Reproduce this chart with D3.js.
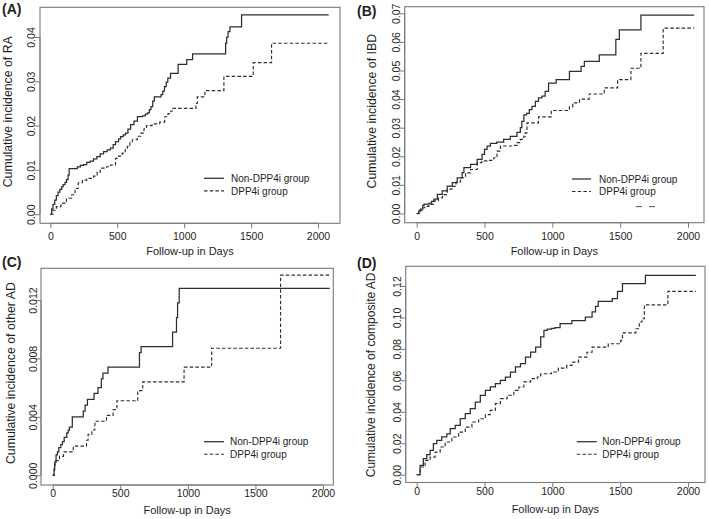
<!DOCTYPE html>
<html><head><meta charset="utf-8">
<script src="https://cdn.jsdelivr.net/npm/d3@7"></script>
<style>
body{margin:0;background:#fff}
svg{display:block}
text{font-family:"Liberation Sans",Arial,Helvetica,sans-serif;fill:#1e1e1e}
</style>
</head><body>
<svg id="chart" width="709" height="519"></svg>
<script>
// ---------------- DATA ----------------
const xTicks = [0, 500, 1000, 1500, 2000];
const groupNames = ["Non-DPP4i group", "DPP4i group"];
const xTitle = "Follow-up in Days";

// Panel A : RA
const aTitle = "Cumulative incidence of RA";
const aTicks = [0, 0.01, 0.02, 0.03, 0.04];
const aTickLabels = ["0.00", "0.01", "0.02", "0.03", "0.04"];
const aEnd = 2080;
const aNonDays = [0,10,20,33,45,58,71,85,96,110,121,133,141,202,225,247,272,298,323,348,373,398,425,449,470,487,510,525,545,562,580,600,625,651,689,710,726,740,752,765,777,827,840,853,866,878,898,955,1019,1063,1310,1318,1328,1342,1429];
const aNonVals = [0,0.0012,0.0022,0.0032,0.0042,0.0050,0.0056,0.0062,0.0067,0.0072,0.0078,0.0088,0.0103,0.0107,0.0110,0.0112,0.0117,0.0120,0.0125,0.0130,0.0136,0.0141,0.0145,0.0149,0.0157,0.0164,0.0170,0.0175,0.0179,0.0183,0.0192,0.0202,0.0210,0.0220,0.0222,0.0226,0.0229,0.0236,0.0243,0.0255,0.0265,0.0270,0.0278,0.0288,0.0298,0.0307,0.0318,0.0338,0.0349,0.0362,0.0386,0.0400,0.0412,0.0423,0.0450];
const aDppDays = [0,20,45,80,121,159,185,209,240,272,323,350,373,420,449,487,510,537,560,575,595,613,650,676,700,718,760,817,854,879,900,916,1088,1098,1155,1297,1516,1653];
const aDppVals = [0,0.0009,0.0017,0.0025,0.0036,0.0044,0.0058,0.0071,0.0077,0.0081,0.0086,0.0095,0.0104,0.0107,0.0111,0.0126,0.0131,0.0138,0.0146,0.0153,0.0162,0.0168,0.0176,0.0183,0.0193,0.0200,0.0204,0.0208,0.0220,0.0227,0.0233,0.0239,0.0250,0.0265,0.0279,0.0311,0.0342,0.0386];

// Panel B : IBD
const bTitle = "Cumulative incidence of IBD";
const bTicks = [0, 0.01, 0.02, 0.03, 0.04, 0.05, 0.06, 0.07];
const bTickLabels = ["0.00","0.01","0.02","0.03","0.04","0.05","0.06","0.07"];
const bEnd = 2045;
const bNonDays = [0,15,29,45,54,91,110,127,152,188,225,262,299,335,348,397,446,482,500,519,543,590,641,690,739,764,775,790,810,830,850,875,898,923,947,972,1028,1126,1212,1236,1346,1468,1494,1653];
const bNonVals = [0,0.0008,0.0015,0.0028,0.0033,0.0036,0.0042,0.0050,0.0067,0.0079,0.0096,0.0108,0.0125,0.0143,0.0160,0.0172,0.0189,0.0207,0.0224,0.0236,0.0245,0.0250,0.0259,0.0270,0.0284,0.0300,0.0322,0.0345,0.0350,0.0363,0.0375,0.0392,0.0404,0.0410,0.0427,0.0456,0.0468,0.0497,0.0514,0.0532,0.0555,0.0609,0.0642,0.0694];
const bDppDays = [0,20,40,60,90,127,160,190,225,260,290,323,360,397,446,480,519,568,592,617,715,740,764,790,800,813,898,992,1126,1150,1200,1272,1383,1481,1579,1653,1817];
const bDppVals = [0,0.0012,0.0020,0.0025,0.0032,0.0044,0.0055,0.0066,0.0085,0.0095,0.0110,0.0125,0.0142,0.0154,0.0178,0.0184,0.0186,0.0195,0.0218,0.0236,0.0238,0.0248,0.0259,0.0270,0.0282,0.0317,0.0338,0.0360,0.0373,0.0387,0.0400,0.0418,0.0439,0.0468,0.0508,0.0560,0.0648];
const bStrayDays = [1617, 1757];
const bStrayVal = 0.0024;

// Panel C : other AD
const cTitle = "Cumulative incidence of other AD";
const cTicks = [0, 0.004, 0.008, 0.012];
const cTickLabels = ["0.000","0.004","0.008","0.012"];
const cEnd = 2050;
const cNonDays = [0,10,15,25,35,45,60,72,85,104,115,124,145,226,240,257,306,335,360,372,409,642,654,887,916,924,936];
const cNonVals = [0,0.0004,0.0009,0.0014,0.0016,0.0019,0.0021,0.0023,0.0026,0.0029,0.0031,0.0033,0.0040,0.0044,0.0048,0.0052,0.0056,0.0060,0.0066,0.0070,0.0074,0.0084,0.0088,0.0098,0.0108,0.0118,0.0128];
const cDppDays = [0,12,17,50,80,152,250,262,290,312,398,447,475,629,666,972,1176,1686];
const cDppVals = [0,0.0005,0.0010,0.0013,0.0016,0.0020,0.0024,0.0028,0.0031,0.0037,0.0041,0.0045,0.0051,0.0058,0.0064,0.0074,0.0087,0.0137];

// Panel D : composite AD
const dTitle = "Cumulative incidence of composite AD";
const dTicks = [0, 0.02, 0.04, 0.06, 0.08, 0.10, 0.12];
const dTickLabels = ["0.00","0.02","0.04","0.06","0.08","0.10","0.12"];
const dEnd = 2058;
const dNonDays = [0,25,49,74,99,123,148,185,222,247,284,321,358,395,432,469,506,543,580,617,654,691,728,765,802,840,877,914,938,963,994,1019,1057,1144,1243,1293,1318,1338,1442,1480,1517,1686];
const dNonVals = [0,0.0059,0.0102,0.0127,0.0155,0.0197,0.0218,0.0240,0.0260,0.0293,0.0314,0.0356,0.0388,0.0420,0.0462,0.0505,0.0536,0.0558,0.0579,0.0600,0.0621,0.0653,0.0685,0.0706,0.0748,0.0780,0.0812,0.0876,0.0918,0.0925,0.0930,0.0935,0.0960,0.0980,0.1002,0.1035,0.1070,0.1103,0.1120,0.1166,0.1215,0.1268];
const dDppDays = [0,25,62,99,136,173,210,259,309,358,407,457,506,543,580,617,667,716,753,790,840,889,914,994,1044,1106,1144,1193,1255,1293,1412,1504,1517,1616,1641,1661,1678,1852];
const dDppVals = [0,0.0049,0.0091,0.0112,0.0144,0.0176,0.0208,0.0240,0.0271,0.0303,0.0335,0.0356,0.0382,0.0409,0.0452,0.0484,0.0505,0.0536,0.0558,0.0590,0.0611,0.0621,0.0642,0.0653,0.0678,0.0695,0.0716,0.0748,0.0779,0.0811,0.0833,0.0854,0.0902,0.0928,0.0971,0.0992,0.1080,0.1166];

// ---------------- LAYOUT ----------------
const layout = {
  A: {box:[40,340,7.3,223.3], xr:[50.3,318], yr:[214.2,37], yTop:0.04, tickX:35, titleX:11.5, titleShift:-3.5, titleSize:12.3, xTickY:240, xTitleY:254.5, lab:[2,14], leg:[204,224,178.3,231]},
  B: {box:[404.7,704,6.7,222.7], xr:[416.7,688], yr:[213.5,13.3], yTop:0.07, tickX:400, titleX:376, titleShift:-3.5, titleSize:12.3, xTickY:240, xTitleY:254.5, lab:[357,16], leg:[572,591,179,599]},
  C: {box:[41,333.3,268.3,485], xr:[52.7,323], yr:[475.3,300], yTop:0.012, tickX:37, titleX:15, titleShift:-3.5, titleSize:12.3, xTickY:496.5, xTitleY:514, lab:[2,267], leg:[204,224,441.7,230]},
  D: {box:[405.7,705,266.3,482.5], xr:[416.7,688], yr:[474.7,286], yTop:0.12, tickX:400.5, titleX:374.5, titleShift:0.5, titleSize:12, xTickY:495, xTitleY:513, lab:[357,268], leg:[576.7,596.7,441.7,602.3]}
};

const panels = [
  {key:"A", label:"(A)", title:aTitle, ticks:aTicks, tickLabels:aTickLabels, end:aEnd, non:[aNonDays,aNonVals], dpp:[aDppDays,aDppVals]},
  {key:"B", label:"(B)", title:bTitle, ticks:bTicks, tickLabels:bTickLabels, end:bEnd, non:[bNonDays,bNonVals], dpp:[bDppDays,bDppVals], stray:[bStrayDays,bStrayVal]},
  {key:"C", label:"(C)", title:cTitle, ticks:cTicks, tickLabels:cTickLabels, end:cEnd, non:[cNonDays,cNonVals], dpp:[cDppDays,cDppVals]},
  {key:"D", label:"(D)", title:dTitle, ticks:dTicks, tickLabels:dTickLabels, end:dEnd, non:[dNonDays,dNonVals], dpp:[dDppDays,dDppVals]}
];

const LINE = "#2e2e2e", DASH = "3.5,2.2", BOX = "#7a7a7a";
const svg = d3.select("#chart");

panels.forEach(p => {
  const L = layout[p.key];
  const [bl, br, bt, bb] = L.box;
  const x = d3.scaleLinear().domain([0, 2000]).range(L.xr);
  const y = d3.scaleLinear().domain([0, L.yTop]).range(L.yr);
  const g = svg.append("g");

  g.append("rect").attr("x", bl).attr("y", bt).attr("width", br - bl).attr("height", bb - bt)
    .attr("fill", "none").attr("stroke", BOX).attr("stroke-width", 1.1);

  const xa = g.append("g").attr("transform", `translate(0,${bb})`)
    .call(d3.axisBottom(x).tickValues(xTicks).tickSize(5).tickFormat(d3.format("d")));
  xa.select(".domain").attr("d", `M${x(xTicks[0])},0H${x(xTicks[xTicks.length-1])}`).attr("stroke", BOX);
  xa.selectAll(".tick line").attr("stroke", BOX);
  xa.selectAll(".tick text").attr("y", L.xTickY - bb).attr("dy", null)
    .style("font-size", "10.5px").style("font-family", "'Liberation Sans',Arial,sans-serif").attr("fill", "#1e1e1e");

  const ya = g.append("g").attr("transform", `translate(${bl},0)`)
    .call(d3.axisLeft(y).tickValues(p.ticks).tickSize(5).tickFormat((d, i) => p.tickLabels[i]));
  ya.select(".domain").attr("d", `M0,${y(p.ticks[0])}V${y(p.ticks[p.ticks.length-1])}`).attr("stroke", BOX);
  ya.selectAll(".tick line").attr("stroke", BOX);
  ya.selectAll(".tick text").attr("x", null).attr("dy", null)
    .attr("transform", `translate(${L.tickX - bl},0) rotate(-90)`)
    .attr("text-anchor", "middle")
    .style("font-size", "10.5px").style("font-family", "'Liberation Sans',Arial,sans-serif").attr("fill", "#1e1e1e");

  g.append("text").attr("x", (bl + br) / 2).attr("y", L.xTitleY).attr("text-anchor", "middle")
    .style("font-size", "11px").text(xTitle);
  g.append("text").attr("transform", `translate(${L.titleX},${(bt + bb) / 2 + L.titleShift}) rotate(-90)`)
    .attr("text-anchor", "middle").style("font-size", L.titleSize + "px").text(p.title);
  g.append("text").attr("x", L.lab[0]).attr("y", L.lab[1]).style("font-size", "14px")
    .style("font-weight", "bold").text(p.label);

  const mk = (arr) => {
    const pts = arr[0].map((d, i) => [d, arr[1][i]]);
    pts.push([p.end, arr[1][arr[1].length - 1]]);
    return pts;
  };
  const line = d3.line().x(d => x(d[0])).y(d => y(d[1])).curve(d3.curveStepAfter);
  g.append("path").attr("d", line(mk(p.dpp))).attr("fill", "none").attr("stroke", LINE)
    .attr("stroke-width", 1.15).attr("stroke-dasharray", DASH);
  g.append("path").attr("d", line(mk(p.non))).attr("fill", "none").attr("stroke", LINE)
    .attr("stroke-width", 1.25);
  if (p.stray) {
    g.append("path").attr("d", line(p.stray[0].map(d => [d, p.stray[1]]))).attr("fill", "none")
      .attr("stroke", "#555").attr("stroke-width", 1).attr("stroke-dasharray", "6,7");
  }

  const [lx1, lx2, ly, tx] = L.leg;
  const rowGap = 12.5;
  [0, 1].forEach(i => {
    g.append("line").attr("x1", lx1).attr("x2", lx2).attr("y1", ly + i * rowGap).attr("y2", ly + i * rowGap)
      .attr("stroke", LINE).attr("stroke-width", i ? 1.15 : 1.25).attr("stroke-dasharray", i ? DASH : null);
    g.append("text").attr("x", tx).attr("y", ly + i * rowGap + 3.7).style("font-size", "10px").text(groupNames[i]);
  });
});
</script>
</body></html>
